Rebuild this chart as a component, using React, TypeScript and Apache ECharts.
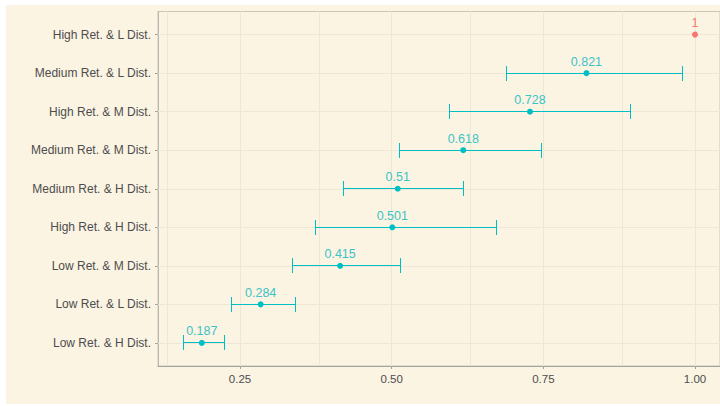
import React, { useEffect, useRef } from "react";
import * as echarts from "echarts";

// Categories from bottom (1) to top (9)
const categories = [
  "Low Ret. & H Dist.",
  "Low Ret. & L Dist.",
  "Low Ret. & M Dist.",
  "High Ret. & H Dist.",
  "Medium Ret. & H Dist.",
  "Medium Ret. & M Dist.",
  "High Ret. & M Dist.",
  "Medium Ret. & L Dist.",
  "High Ret. & L Dist.",
];
const estimates = [0.187, 0.284, 0.415, 0.501, 0.51, 0.618, 0.728, 0.821, 1];
const lowerCI = [0.157, 0.236, 0.336, 0.374, 0.421, 0.513, 0.595, 0.69, null];
const upperCI = [0.225, 0.342, 0.514, 0.672, 0.618, 0.747, 0.893, 0.979, null];
const isReference = [false, false, false, false, false, false, false, false, true];

const xTickValues = [0.25, 0.5, 0.75, 1.0];
const xGridValues = [0.125, 0.25, 0.375, 0.5, 0.625, 0.75, 0.875, 1.0];

const TEAL = "#00BFC4";
const TEAL_TEXT = "#3CC3C6";
const RED = "#F8766D";
const GRID = "#EEE7D6";
const BG = "#FBF4E3";
const TEXT = "#4D4D4D";

const crisp = (v: number) => Math.round(v - 0.5) + 0.5;

export default function App() {
  const ref = useRef<HTMLDivElement>(null);
  useEffect(() => {
    if (!ref.current) return;
    const chart = echarts.init(ref.current, null, { renderer: "svg" });
    const yIdx = categories.map((_, i) => i + 1);
    const errData = yIdx
      .map((y, i) => [y, lowerCI[i], upperCI[i]])
      .filter((d) => d[1] != null && d[2] != null);
    const pointData = yIdx.map((y, i) => ({
      value: [estimates[i], y],
      itemStyle: { color: isReference[i] ? RED : TEAL, opacity: 1 },
      label: { color: isReference[i] ? RED : TEAL_TEXT },
    }));
    chart.setOption({
      animation: false,
      backgroundColor: BG,
      grid: {
        left: 152,
        right: 0,
        top: 6.5,
        bottom: 38,
        show: true,
        borderColor: "#C9C6BA",
        borderWidth: 1,
        backgroundColor: "transparent",
      },
      xAxis: {
        type: "value",
        min: 0.1148,
        max: 1.0412,
        splitLine: { show: false },
        axisLine: { show: true, lineStyle: { color: "#A3A39C", width: 1 } },
        axisTick: {
          show: true,
          length: 3,
          customValues: xTickValues,
          lineStyle: { color: "#A3A39C" },
        },
        axisLabel: {
          customValues: xTickValues,
          formatter: (v: number) => v.toFixed(2),
          color: TEXT,
          fontSize: 11.5,
          fontFamily: "Liberation Sans, Arial, sans-serif",
          margin: 7,
        },
      },
      yAxis: {
        type: "value",
        min: 0.4,
        max: 9.6,
        splitLine: { show: false },
        axisLine: { show: true, lineStyle: { color: "#B9B8AE", width: 1 } },
        axisTick: {
          show: true,
          length: 3,
          customValues: yIdx,
          lineStyle: { color: "#A3A39C" },
        },
        axisLabel: {
          customValues: yIdx,
          formatter: (v: number) => categories[Math.round(v) - 1] ?? "",
          color: TEXT,
          fontSize: 12,
          fontFamily: "Liberation Sans, Arial, sans-serif",
          margin: 7,
        },
      },
      series: [
        {
          type: "scatter",
          data: [],
          z: 1,
          silent: true,
          markLine: {
            silent: true,
            z: 1,
            symbol: ["none", "none"],
            label: { show: false },
            lineStyle: { color: GRID, width: 1, type: "solid" },
            data: [
              ...xGridValues.map((v) => ({ xAxis: v })),
              ...yIdx.map((v) => ({ yAxis: v })),
            ],
          },
        },
        {
          type: "custom",
          z: 2,
          data: errData,
          encode: { x: [1, 2], y: 0 },
          renderItem: (_params: any, api: any) => {
            const y = api.value(0);
            const lo = api.value(1);
            const hi = api.value(2);
            const p1 = api.coord([lo, y]);
            const p2 = api.coord([hi, y]);
            const h = 7.5;
            const yc = crisp(p1[1]);
            const x1 = crisp(p1[0]);
            const x2 = crisp(p2[0]);
            const style = { stroke: TEAL, lineWidth: 1, opacity: 1 };
            return {
              type: "group",
              children: [
                { type: "line", shape: { x1, y1: yc, x2, y2: yc }, style },
                { type: "line", shape: { x1, y1: yc - h, x2: x1, y2: yc + h }, style },
                { type: "line", shape: { x1: x2, y1: yc - h, x2, y2: yc + h }, style },
              ],
            };
          },
        },
        {
          type: "scatter",
          z: 5,
          symbol: "circle",
          symbolSize: 6,
          data: pointData,
          label: {
            show: true,
            position: "top",
            distance: 2,
            fontSize: 12.5,
            fontFamily: "Liberation Sans, Arial, sans-serif",
            formatter: (p: any) => String(p.value[0]),
          },
        },
      ],
    });
    return () => chart.dispose();
  }, []);
  return (
    <div style={{ position: "fixed", left: 0, top: 0, width: 720, height: 406, background: "#ffffff" }}>
      <div
        ref={ref}
        style={{ position: "absolute", left: 6, top: 5, width: 714, height: 399 }}
      />
    </div>
  );
}
